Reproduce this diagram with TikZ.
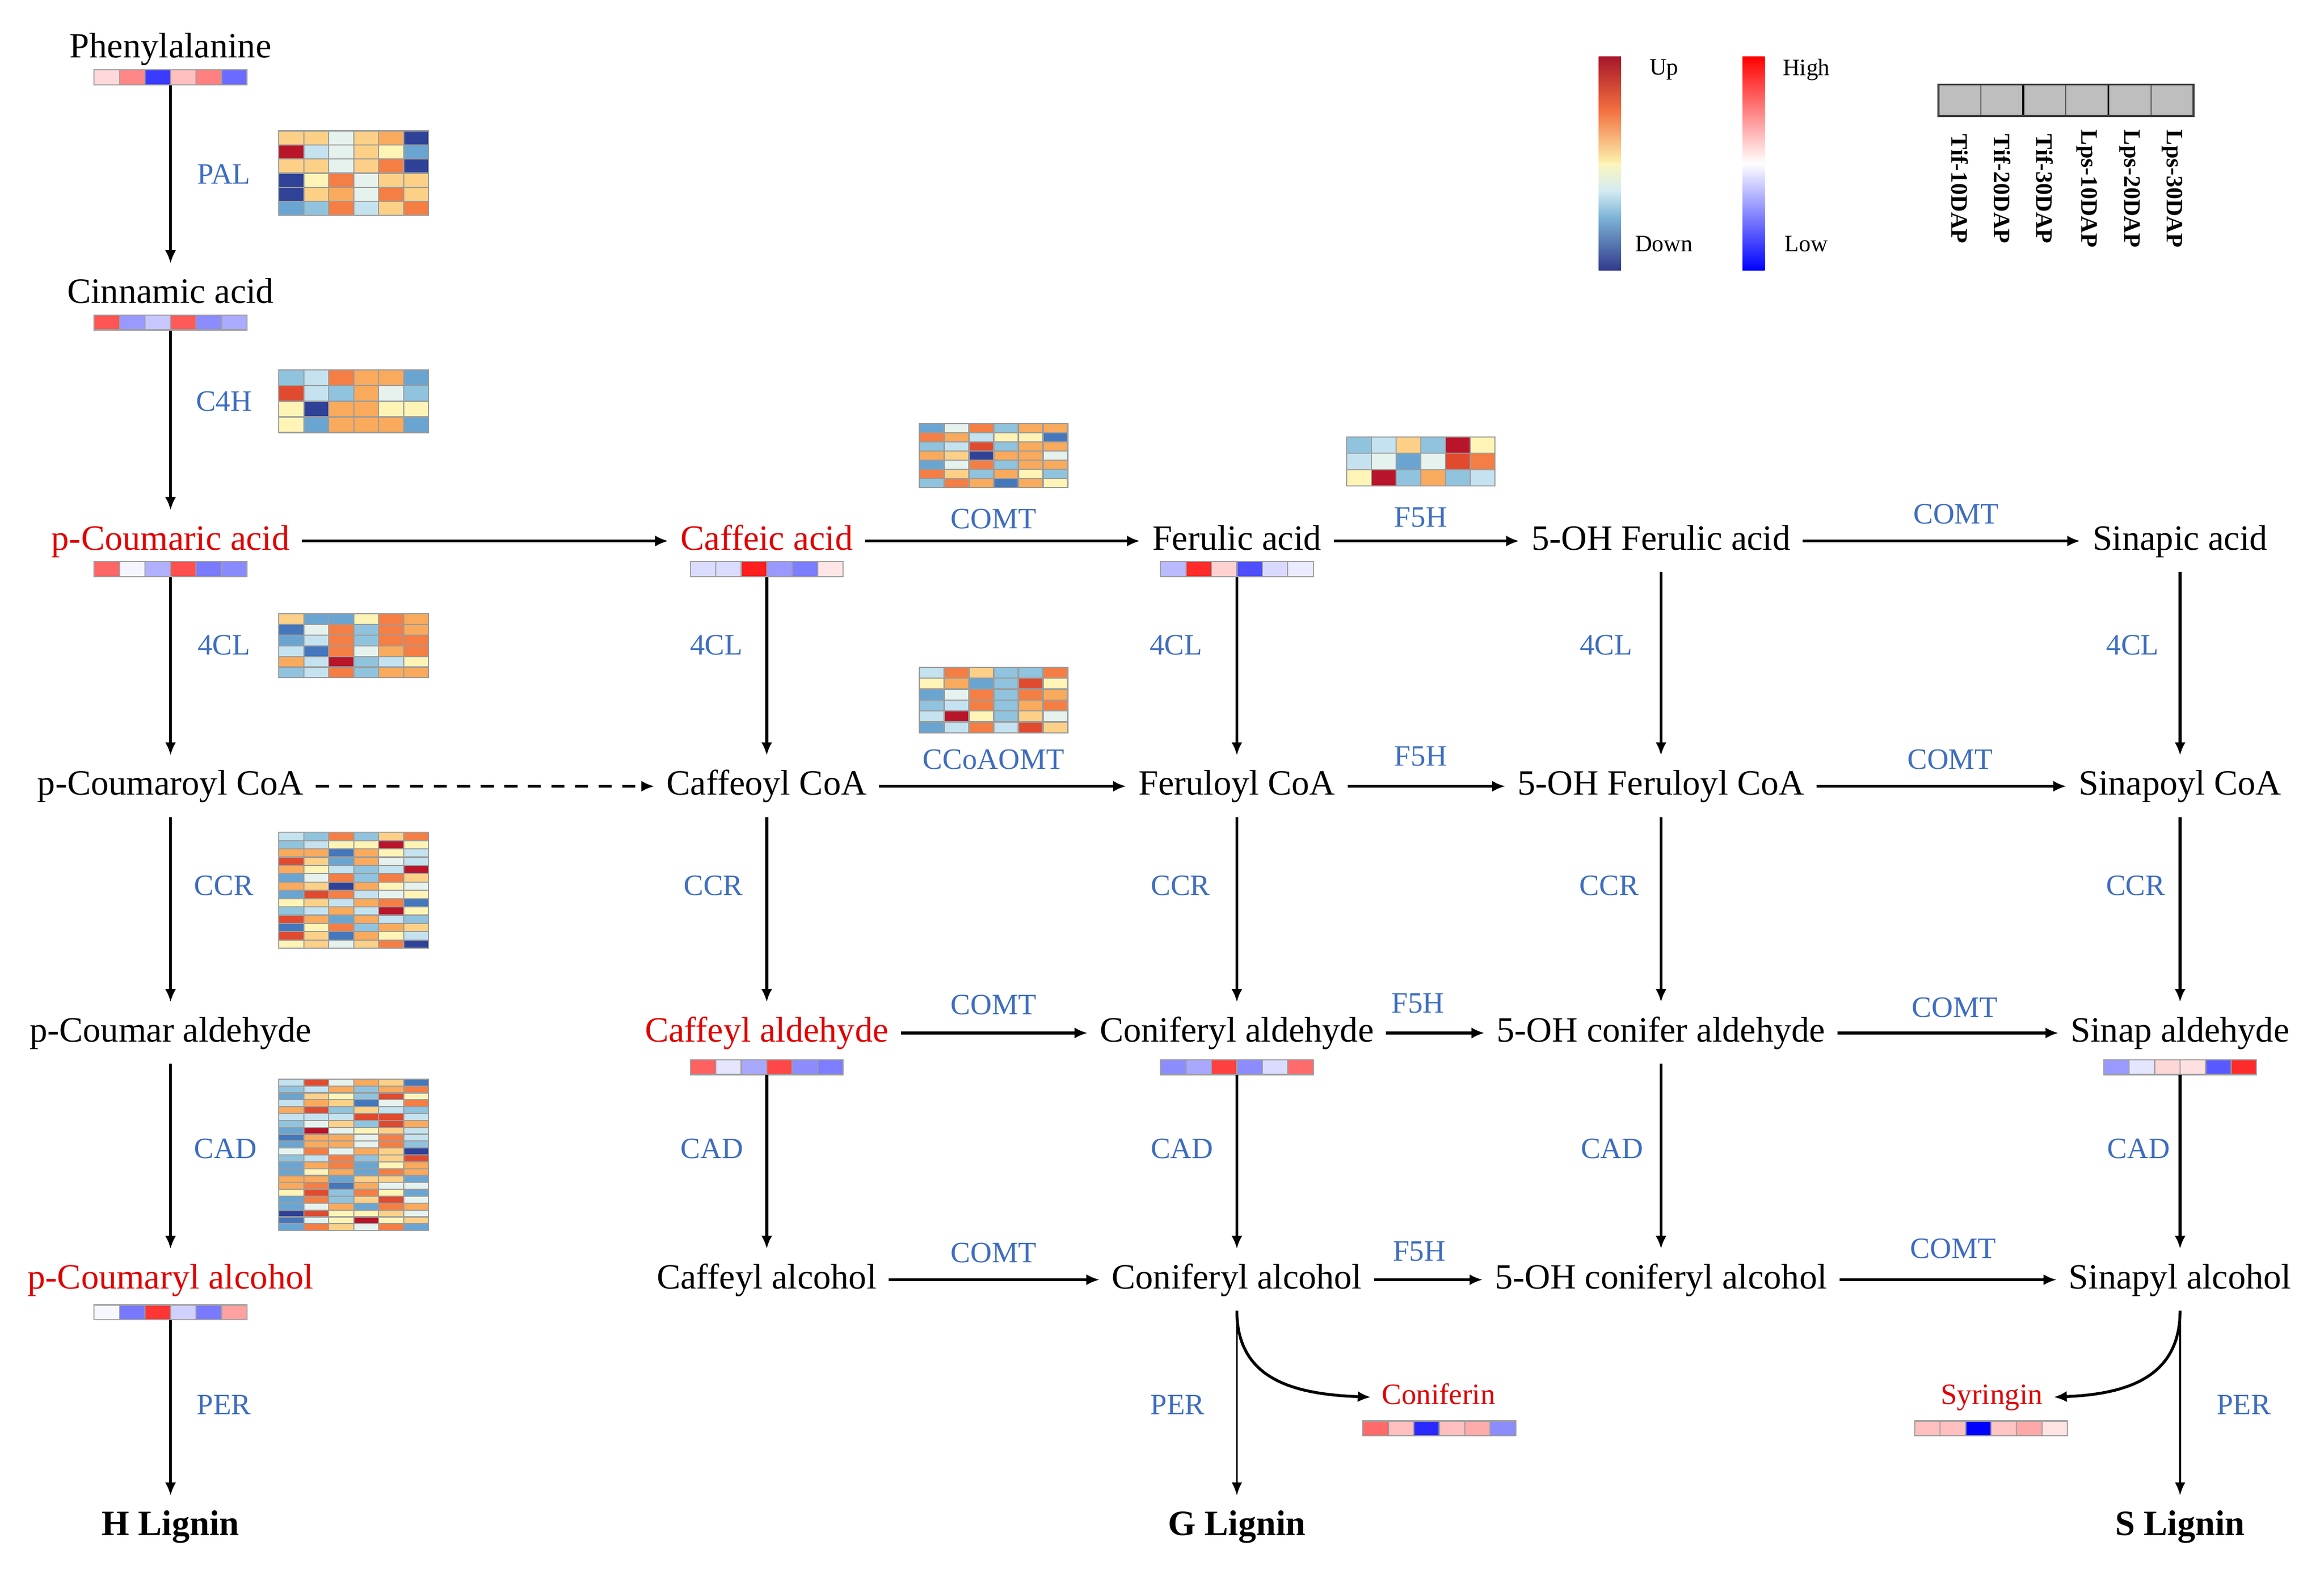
\documentclass[tikz,border=0pt]{standalone}
\usepackage{fontspec}
\setmainfont{Liberation Serif}
\usetikzlibrary{arrows.meta}
\definecolor{hma}{HTML}{B8152A}
\definecolor{hmb}{HTML}{E04B30}
\definecolor{hmc}{HTML}{F47E44}
\definecolor{hmd}{HTML}{F9AA5C}
\definecolor{hme}{HTML}{FCD187}
\definecolor{hmf}{HTML}{FEF4B6}
\definecolor{hmw}{HTML}{E6F2EE}
\definecolor{hmg}{HTML}{C4E2EF}
\definecolor{hmh}{HTML}{90C3DE}
\definecolor{hmi}{HTML}{6AA5D2}
\definecolor{hmj}{HTML}{4577BC}
\definecolor{hmk}{HTML}{2F4297}
\definecolor{hmline}{HTML}{9C9C9C}
\definecolor{barline}{HTML}{A0A0A0}
\definecolor{enzblue}{HTML}{3E6DBF}
\definecolor{metred}{HTML}{E00000}
\definecolor{boxgray}{HTML}{BEBEBE}
\newcommand{\hmap}[6]{%
  \foreach \rw [count=\r from 0] in {#6} {
    \foreach \cc [count=\i from 0] in \rw {
      \filldraw[fill=hm\cc, draw=hmline, line width=0.45pt]
        ({#1+\i*#3/6},{#2+\r*#4/#5}) rectangle ++({#3/6},{#4/#5});
    }
  }
}
\newcommand{\sbar}[4]{%
  \node[barnode] (#1) at (#2,{#3+5}) {};
  \foreach \cc [count=\i from 0] in {#4} {
    \filldraw[fill=\cc, draw=barline, line width=0.45pt]
      ({#2-51.5+\i*103/6},#3) rectangle ++({103/6},10);
  }
}
\tikzset{
  met/.style={font=\fontsize{13.6}{16}\selectfont, text height=9.5pt, text depth=2.7pt, inner xsep=4.5pt, inner ysep=5.5pt},
  redmet/.style={met, text=metred},
  lig/.style={met, font=\fontsize{13.6}{16}\selectfont\bfseries},
  enz/.style={font=\fontsize{11.3}{13}\selectfont, text=enzblue, inner sep=1pt},
  glyco/.style={font=\fontsize{11.3}{13}\selectfont, text=metred, text height=7.9pt, text depth=2.3pt, inner xsep=4pt, inner ysep=2pt},
  arr/.style={line width=1.1pt, -{Latex[length=5pt,width=4.2pt]}},
  arrthin/.style={line width=0.75pt, -{Latex[length=5pt,width=4pt]}},
  barnode/.style={inner sep=0pt, minimum width=2.05cm, minimum height=0.2cm},
  samp/.style={font=\fontsize{9}{10}\selectfont\bfseries, rotate=-90, inner sep=0pt},
  leg/.style={font=\fontsize{9}{10}\selectfont, inner sep=0pt},
}
\begin{document}
\begin{tikzpicture}[x=0.01991cm, y=-0.01996cm]
\useasboundingbox (0,0) rectangle (1567.05,1056.8);
\fill[white] (0,0) rectangle (1567.05,1056.8);

% ---------- metabolites ----------
\node[met] (phe) at (115,33) {Phenylalanine};
\node[met] (cin) at (115,198) {Cinnamic acid};
\node[redmet] (pca) at (115,364) {p-Coumaric acid};
\node[redmet] (caf) at (517,364) {Caffeic acid};
\node[met] (fer) at (834,364) {Ferulic acid};
\node[met] (ohf) at (1120,364) {5-OH Ferulic acid};
\node[met] (sin) at (1470,364) {Sinapic acid};

\node[met] (pcoa) at (115,529) {p-Coumaroyl CoA};
\node[met] (cfcoa) at (517,529) {Caffeoyl CoA};
\node[met] (frcoa) at (834,529) {Feruloyl CoA};
\node[met] (ohcoa) at (1120,529) {5-OH Feruloyl CoA};
\node[met] (sncoa) at (1470,529) {Sinapoyl CoA};

\node[met] (pald) at (115,695) {p-Coumar aldehyde};
\node[redmet] (cfald) at (517,695) {Caffeyl aldehyde};
\node[met] (coald) at (834,695) {Coniferyl aldehyde};
\node[met] (ohald) at (1120,695) {5-OH conifer aldehyde};
\node[met] (snald) at (1470,695) {Sinap aldehyde};

\node[redmet] (palc) at (115,861) {p-Coumaryl alcohol};
\node[met] (cfalc) at (517,861) {Caffeyl alcohol};
\node[met] (coalc) at (834,861) {Coniferyl alcohol};
\node[met] (ohalc) at (1120,861) {5-OH coniferyl alcohol};
\node[met] (snalc) at (1470,861) {Sinapyl alcohol};

\node[glyco] (conif) at (970,940) {Coniferin};
\node[glyco] (syrin) at (1343,940) {Syringin};

\node[lig] (hlig) at (115,1027) {H Lignin};
\node[lig] (glig) at (834,1027) {G Lignin};
\node[lig] (slig) at (1470,1027) {S Lignin};

% ---------- small bars ----------
\sbar{phebar}{115}{47}{red!15, red!47, blue!77, red!25, red!50, blue!58}
\sbar{cinbar}{115}{212}{red!67, blue!40, blue!22, red!65, blue!45, blue!33}
\sbar{pcabar}{115}{378}{red!60, blue!4, blue!31, red!69, blue!52, blue!46}
\sbar{cafbar}{517}{378}{blue!14, blue!14, red!88, blue!40, blue!51, red!10}
\sbar{ferbar}{834}{378}{blue!27, red!83, red!18, blue!69, blue!15, blue!8}
\sbar{cfaldbar}{517}{713}{red!62, blue!10, blue!34, red!72, blue!45, blue!51}
\sbar{coaldbar}{834}{713}{blue!45, blue!34, red!75, blue!45, blue!14, red!58}
\sbar{snaldbar}{1470}{713}{blue!40, blue!10, red!16, red!12, blue!65, red!83}
\sbar{palcbar}{115}{878}{blue!3, blue!53, red!79, blue!18, blue!52, red!37}
\sbar{conifbar}{970.5}{956}{red!58, red!25, blue!84, red!25, red!33, blue!45}
\sbar{syrinbar}{1342.5}{956}{red!25, red!25, blue, red!23, red!34, red!11}

% ---------- heatmaps ----------
\hmap{188}{88}{101}{57}{6}{{e,e,w,e,d,k},{a,g,w,e,f,i},{e,e,w,e,c,k},{k,f,c,w,e,e},{k,e,d,w,c,e},{i,h,c,g,e,c}}
\hmap{188}{249}{101}{42}{4}{{h,g,c,d,d,i},{b,g,h,d,w,h},{f,k,d,d,f,f},{f,i,d,d,d,i}}
\hmap{188}{413}{101}{43}{6}{{e,i,i,f,c,d},{j,w,c,h,c,d},{i,g,c,h,c,c},{g,j,c,w,d,c},{d,g,a,h,g,f},{h,g,c,h,d,d}}
\hmap{188}{560}{101}{78}{14}{{g,h,c,h,e,c},{h,g,f,f,a,f},{d,d,j,d,f,g},{b,e,i,d,w,g},{d,f,g,h,g,a},{i,w,c,h,c,e},{d,e,k,d,f,w},{i,b,c,g,w,f},{f,e,g,d,c,j},{h,g,d,g,a,f},{b,d,i,d,g,h},{j,f,c,h,d,e},{b,e,j,d,f,g},{f,e,w,e,c,k}}
\hmap{188}{726}{101}{102}{22}{{g,b,w,d,e,j},{h,g,d,h,d,c},{i,e,f,h,b,f},{g,d,e,j,w,c},{d,b,h,e,g,h},{g,g,g,b,b,g},{h,w,e,h,b,d},{i,a,w,f,e,g},{j,d,d,w,c,g},{i,d,d,w,c,h},{w,c,w,d,e,k},{h,g,c,h,e,b},{i,d,c,i,f,d},{i,f,d,i,c,d},{d,d,i,e,e,i},{d,c,j,d,w,w},{f,b,h,c,f,i},{i,c,h,e,b,w},{i,w,d,i,c,d},{k,b,f,f,e,w},{j,w,f,a,f,e},{i,c,e,w,c,i}}
\hmap{620}{285}{100}{43}{7}{{i,w,c,h,d,d},{c,d,g,f,f,j},{h,g,b,h,d,d},{d,e,k,d,d,w},{i,w,c,h,d,d},{c,e,h,d,f,h},{h,c,d,j,d,f}}
\hmap{620}{449}{100}{44}{6}{{g,c,e,h,h,c},{f,d,i,h,b,f},{i,w,c,h,c,d},{h,g,c,h,d,c},{g,a,f,h,e,w},{i,g,c,g,b,e}}
\hmap{908}{294}{100}{33}{3}{{h,g,e,h,a,f},{g,w,i,w,b,c},{f,a,h,d,h,g}}

% ---------- vertical arrows ----------
\draw[arr] (phebar.south) -- (cin.north);
\draw[arr] (cinbar.south) -- (pca.north);
\draw[arr] (pcabar.south) -- (pcoa.north);
\draw[arr] (pcoa.south) -- (pald.north);
\draw[arr] (pald.south) -- (palc.north);
\draw[arr] (palcbar.south) -- (hlig.north);

\draw[arr] (cafbar.south) -- (cfcoa.north);
\draw[arr] (cfcoa.south) -- (cfald.north);
\draw[arr] (cfaldbar.south) -- (cfalc.north);

\draw[arr] (ferbar.south) -- (frcoa.north);
\draw[arr] (frcoa.south) -- (coald.north);
\draw[arr] (coaldbar.south) -- (coalc.north);
\draw[arrthin] (coalc.south) -- (glig.north);

\draw[arr] (ohf.south) -- (ohcoa.north);
\draw[arr] (ohcoa.south) -- (ohald.north);
\draw[arr] (ohald.south) -- (ohalc.north);

\draw[arr] (sin.south) -- (sncoa.north);
\draw[arr] (sncoa.south) -- (snald.north);
\draw[arr] (snaldbar.south) -- (snalc.north);
\draw[arrthin] (snalc.south) -- (slig.north);

% ---------- horizontal arrows ----------
\draw[arr] (pca) -- (caf);
\draw[arr] (caf) -- (fer);
\draw[arr] (fer) -- (ohf);
\draw[arr] (ohf) -- (sin);

\draw[arr, dash pattern=on 5pt off 4pt] (pcoa) -- (cfcoa);
\draw[arr] (cfcoa) -- (frcoa);
\draw[arr] (frcoa) -- (ohcoa);
\draw[arr] (ohcoa) -- (sncoa);

\draw[arr] (cfald) -- (coald);
\draw[arr] (coald) -- (ohald);
\draw[arr] (ohald) -- (snald);

\draw[arr] (cfalc) -- (coalc);
\draw[arr] (coalc) -- (ohalc);
\draw[arr] (ohalc) -- (snalc);

% ---------- curved arrows ----------
\draw[arr] (coalc.south) .. controls (834,928) and (872,938) .. (conif.west);
\draw[arr] (snalc.south) .. controls (1470,928) and (1432,938) .. (syrin.east);

% ---------- enzyme labels ----------
\node[enz] (e1) at (151,117) {PAL};
\node[enz] (e2) at (151,270) {C4H};
\node[enz] (e3) at (151,434) {4CL};
\node[enz] (e4) at (151,596) {CCR};
\node[enz] (e5) at (152,773) {CAD};
\node[enz] (e6) at (151,945) {PER};
\node[enz] (e7) at (483,434) {4CL};
\node[enz] (e8) at (481,596) {CCR};
\node[enz] (e9) at (480,773) {CAD};
\node[enz] (e10) at (793,434) {4CL};
\node[enz] (e11) at (796,596) {CCR};
\node[enz] (e12) at (797,773) {CAD};
\node[enz] (e13) at (794,945) {PER};
\node[enz] (e14) at (1083,434) {4CL};
\node[enz] (e15) at (1085,596) {CCR};
\node[enz] (e16) at (1087,773) {CAD};
\node[enz] (e17) at (1438,434) {4CL};
\node[enz] (e18) at (1440,596) {CCR};
\node[enz] (e19) at (1442,773) {CAD};
\node[enz] (e20) at (1513,945) {PER};
\node[enz] (e21) at (670,349) {COMT};
\node[enz] (e22) at (958,348) {F5H};
\node[enz] (e23) at (1319,346) {COMT};
\node[enz] (e24) at (670,511) {CCoAOMT};
\node[enz] (e25) at (958,509) {F5H};
\node[enz] (e26) at (1315,511) {COMT};
\node[enz] (e27) at (670,676) {COMT};
\node[enz] (e28) at (956,675) {F5H};
\node[enz] (e29) at (1318,678) {COMT};
\node[enz] (e30) at (670,843) {COMT};
\node[enz] (e31) at (957,842) {F5H};
\node[enz] (e32) at (1317,840) {COMT};

% ---------- legend ----------
\shade[top color={rgb,255:red,168;green,22;blue,42}, bottom color={rgb,255:red,242;green,112;blue,63}] (1078,38) rectangle (1093,74.3);
\shade[top color={rgb,255:red,242;green,112;blue,63}, bottom color={rgb,255:red,252;green,243;blue,176}] (1078,74) rectangle (1093,110.3);
\shade[top color={rgb,255:red,252;green,246;blue,188}, bottom color={rgb,255:red,125;green,180;blue,215}, middle color={rgb,255:red,212;green,235;blue,242}] (1078,110) rectangle (1093,146.3);
\shade[top color={rgb,255:red,125;green,180;blue,215}, bottom color={rgb,255:red,50;green,58;blue,140}] (1078,146) rectangle (1093,182);
\shade[top color=red, bottom color=blue, middle color=white] (1175,38) rectangle (1190,182);
\node[leg] (lup) at (1122,47) {Up};
\node[leg] (ldown) at (1122,164) {Down};
\node[leg] (lhigh) at (1218,47) {High};
\node[leg] (llow) at (1218,164) {Low};

\fill[boxgray] (1307,57) rectangle (1479,78);
\foreach \k in {1,3,5} \draw[gray!70!black, line width=0.4pt] ({1307+\k*172/6},57) -- ({1307+\k*172/6},78);
\foreach \k in {2,4} \draw[black, line width=0.7pt] ({1307+\k*172/6},57) -- ({1307+\k*172/6},78);
\draw[black!75, line width=0.7pt] (1307,57) rectangle (1479,78);

\node[samp] (s1) at (1321.3,127) {Tif-10DAP};
\node[samp] (s2) at (1350,127) {Tif-20DAP};
\node[samp] (s3) at (1378.7,127) {Tif-30DAP};
\node[samp] (s4) at (1407.3,127) {Lps-10DAP};
\node[samp] (s5) at (1436,127) {Lps-20DAP};
\node[samp] (s6) at (1464.7,127) {Lps-30DAP};
\end{tikzpicture}
\end{document}
